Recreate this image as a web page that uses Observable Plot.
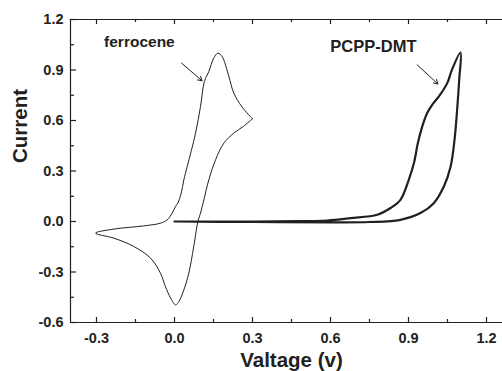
<!DOCTYPE html>
<html><head><meta charset="utf-8">
<script src="https://cdn.jsdelivr.net/npm/d3@7"></script>
<script src="https://cdn.jsdelivr.net/npm/@observablehq/plot@0.6"></script>
<style>html,body{margin:0;padding:0;background:#fff;overflow:hidden}</style>
</head><body><div id="chart"></div>
<script>
// ---- data ----
const xDomain = [-0.4, 1.3];
const yDomain = [-0.6, 1.2];
const xTicks = [-0.3, 0.0, 0.3, 0.6, 0.9, 1.2];
const xMinor = [-0.15, 0.15, 0.45, 0.75, 1.05];
const yTicks = [-0.6, -0.3, 0.0, 0.3, 0.6, 0.9, 1.2];
const yMinor = [-0.45, -0.15, 0.15, 0.45, 0.75, 1.05];

const ferroX = [0.30, 0.265, 0.228, 0.19, 0.158, 0.132, 0.113, 0.10, 0.09, 0.074, 0.055, 0.036, 0.017, 0.004, -0.015, -0.035, -0.054, -0.092, -0.157, -0.233, -0.304, -0.233, -0.118, -0.054, -0.028, -0.009, 0.004, 0.013, 0.026, 0.036, 0.049, 0.081, 0.10, 0.115, 0.132, 0.151, 0.167, 0.183, 0.209, 0.228, 0.26, 0.30];
const ferroY = [0.61, 0.565, 0.525, 0.466, 0.367, 0.248, 0.129, 0.05, 0.0, -0.149, -0.307, -0.406, -0.475, -0.495, -0.455, -0.386, -0.307, -0.218, -0.148, -0.099, -0.069, -0.045, -0.026, -0.01, 0.01, 0.05, 0.09, 0.11, 0.169, 0.248, 0.327, 0.525, 0.683, 0.832, 0.891, 0.971, 1.0, 0.98, 0.862, 0.763, 0.68, 0.61];

const pcppX = [0.0, 0.3, 0.6, 0.75, 0.869, 0.946, 0.997, 1.036, 1.062, 1.077, 1.087, 1.095, 1.1, 1.067, 1.049, 1.017, 0.991, 0.972, 0.953, 0.936, 0.921, 0.901, 0.869, 0.831, 0.78, 0.677, 0.587, 0.485, 0.3, 0.0];
const pcppY = [0.0, -0.003, -0.005, -0.003, 0.01, 0.05, 0.109, 0.208, 0.327, 0.485, 0.664, 0.842, 1.004, 0.901, 0.822, 0.743, 0.693, 0.644, 0.565, 0.466, 0.347, 0.248, 0.129, 0.08, 0.04, 0.02, 0.006, 0.002, 0.0, 0.0];

const labels = ["ferrocene", "PCPP-DMT"];
const labelX = [-0.135, 0.765];
const labelY = [1.064, 1.036];
const labelSize = [15.5, 16.5];
const arrowX1 = [0.027, 0.933], arrowY1 = [0.941, 0.931];
const arrowX2 = [0.106, 1.013], arrowY2 = [0.836, 0.817];

// ---- tables ----
const ferro = ferroX.map((x, i) => ({x, y: ferroY[i]}));
const pcpp = pcppX.map((x, i) => ({x, y: pcppY[i]}));
const notes = labels.map((t, i) => ({t, x: labelX[i], y: labelY[i], s: labelSize[i]}));
const arrows = labels.map((t, i) => ({x1: arrowX1[i], y1: arrowY1[i], x2: arrowX2[i], y2: arrowY2[i]}));

const ink = "#231f20";
const fmt = d => d.toFixed(1);
const id = d => d;

const W = 502, H = 371, ML = 70, MR = 0, MT = 19, MB = 49;
const frameH = H - MT - MB, frameW = W - ML - MR;
const tickStyle = {stroke: ink, strokeWidth: 1.2};

const chart = Plot.plot({
  width: W, height: H,
  marginLeft: ML, marginRight: MR, marginTop: MT, marginBottom: MB,
  style: {fontFamily: "'Liberation Sans', Arial, sans-serif", fontWeight: "bold", fontSize: "14.5px", color: ink, background: "#fff"},
  x: {domain: xDomain, range: [ML, 512]},
  y: {domain: yDomain},
  marks: [
    Plot.line(pcpp, {x: "x", y: "y", stroke: ink, strokeWidth: 2.2, curve: "catmull-rom"}),
    Plot.line(ferro, {x: "x", y: "y", stroke: ink, strokeWidth: 1, curve: "catmull-rom"}),
    Plot.ruleY([yDomain[0], yDomain[1]], {stroke: ink, strokeWidth: 1.2}),
    Plot.ruleX([xDomain[0]], {stroke: ink, strokeWidth: 1.2}),
    // inward ticks (bottom, top, left)
    Plot.tickX(xTicks, {x: id, insetTop: frameH - 5, ...tickStyle}),
    Plot.tickX(xMinor, {x: id, insetTop: frameH - 3, ...tickStyle}),
    Plot.tickX(xTicks, {x: id, insetBottom: frameH - 5, ...tickStyle}),
    Plot.tickX(xMinor, {x: id, insetBottom: frameH - 3, ...tickStyle}),
    Plot.tickY(yTicks, {y: id, insetRight: frameW - 6, ...tickStyle}),
    Plot.tickY(yMinor, {y: id, insetRight: frameW - 4, ...tickStyle}),
    // tick labels
    Plot.axisX(xTicks, {anchor: "bottom", tickSize: 0, tickPadding: 10, tickFormat: fmt, label: null, fill: ink, fontSize: 14.5, fontWeight: "bold"}),
    Plot.axisY(yTicks, {anchor: "left", tickSize: 0, tickPadding: 7, tickFormat: fmt, label: null, fill: ink, fontSize: 14.5, fontWeight: "bold"}),
    // axis titles
    Plot.text(["Valtage (v)"], {frameAnchor: "bottom", dx: 5, dy: 44, fontSize: 20.5, fontWeight: "bold", fill: ink}),
    Plot.text(["Current"], {frameAnchor: "left", dx: -50, dy: -8, rotate: -90, fontSize: 20.5, fontWeight: "bold", fill: ink}),
    // annotations
    Plot.text(notes, {x: "x", y: "y", text: "t", fontSize: "s", fontWeight: "bold", fill: ink}),
    Plot.arrow(arrows, {x1: "x1", y1: "y1", x2: "x2", y2: "y2", stroke: ink, strokeWidth: 1, headLength: 7})
  ]
});
document.getElementById("chart").appendChild(chart);
</script>
</body></html>
